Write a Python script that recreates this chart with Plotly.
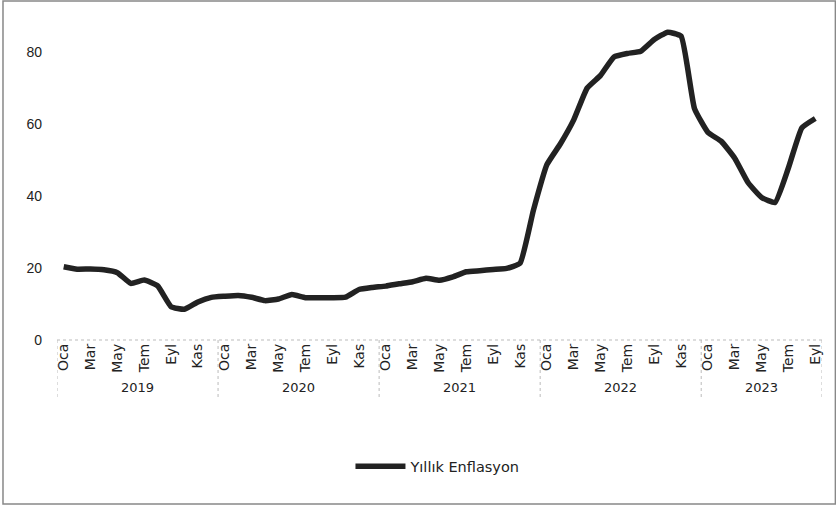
import plotly.graph_objects as go

years = ["2019", "2020", "2021", "2022", "2023"]
months = ["Oca", "Şub", "Mar", "Nis", "May", "Haz", "Tem", "Ağu", "Eyl", "Eki", "Kas", "Ara"]
series_name = "Yıllık Enflasyon"
inflation = [
    20.35, 19.67, 19.71, 19.50, 18.71, 15.72, 16.65, 15.01, 9.26, 8.55, 10.56, 11.84,
    12.15, 12.37, 11.86, 10.94, 11.39, 12.62, 11.76, 11.77, 11.75, 11.89, 14.03, 14.60,
    14.97, 15.61, 16.19, 17.14, 16.59, 17.53, 18.95, 19.25, 19.58, 19.89, 21.31, 36.08,
    48.69, 54.44, 61.14, 69.97, 73.50, 78.62, 79.60, 80.21, 83.45, 85.51, 84.39, 64.27,
    57.68, 55.18, 50.51, 43.68, 39.59, 38.21, 47.83, 58.94, 61.53,
]
y_ticks = [0, 20, 40, 60, 80]

n = len(inflation)
x = list(range(n))
month_labels = [months[i % 12] for i in range(n)]
tickvals = [i for i in range(n) if i % 2 == 0]
ticktext = [month_labels[i] for i in tickvals]

fig = go.Figure()
fig.add_trace(go.Scatter(
    x=x, y=inflation, mode="lines", name=series_name,
    line=dict(color="#222222", width=5.5, shape="spline", smoothing=0.4),
))

shapes = []
# dotted axis line along the top of the category axis
shapes.append(dict(type="line", xref="x", yref="paper", x0=-0.5, x1=n - 0.5, y0=0, y1=0,
                   line=dict(color="#bbbbbb", width=1, dash="dot")))
# year separators
for k in range(len(years) + 1):
    xv = min(k * 12, n) - 0.5
    shapes.append(dict(type="line", xref="x", yref="paper", x0=xv, x1=xv, y0=0, y1=-0.185,
                       line=dict(color="#bbbbbb", width=1, dash="dot")))
# outer frame
shapes.append(dict(type="rect", xref="paper", yref="paper",
                   x0=-0.0706, x1=1.0175, y0=-0.506, y1=1.046,
                   line=dict(color="#888888", width=1.5)))

annotations = []
for k, yr in enumerate(years):
    start = k * 12
    end = min(start + 12, n)
    annotations.append(dict(x=(start + end - 1) / 2, y=-0.148, xref="x", yref="paper",
                            yanchor="middle", text=yr, showarrow=False,
                            font=dict(family="DejaVu Sans", size=13, color="#222222")))

fig.update_layout(
    width=836, height=506,
    margin=dict(l=57, r=14, t=16, b=166, autoexpand=False),
    paper_bgcolor="white", plot_bgcolor="white",
    showlegend=True,
    legend=dict(orientation="h", x=0.498, xanchor="center", y=-0.39, yanchor="middle",
                font=dict(family="DejaVu Sans", size=14.5, color="#222222"),
                itemwidth=50),
    xaxis=dict(range=[-0.5, n - 0.5], tickmode="array", tickvals=tickvals, ticktext=ticktext,
               tickangle=-90, showgrid=False, zeroline=False, showline=False, ticks="",
               automargin=False,
               tickfont=dict(family="DejaVu Sans", size=14, color="#222222")),
    yaxis=dict(range=[0, 90], tickmode="array", tickvals=y_ticks, showgrid=False,
               zeroline=False, showline=False, ticks="", ticklabelstandoff=14,
               automargin=False,
               tickfont=dict(family="Liberation Sans", size=14, color="#222222")),
    shapes=shapes, annotations=annotations,
)

fig.write_html("out.html", config={"displayModeBar": False},
               post_script="document.body.style.margin='0';document.body.style.overflow='hidden';")
